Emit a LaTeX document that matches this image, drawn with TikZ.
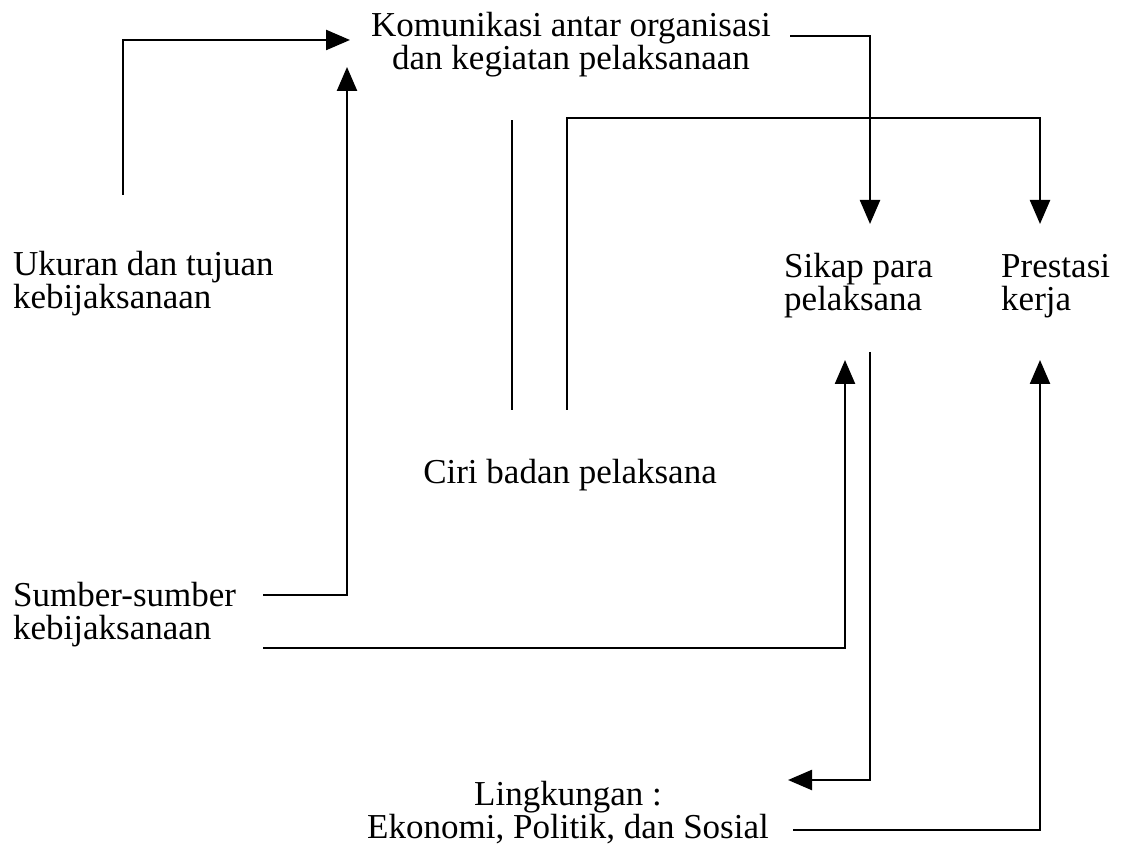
\documentclass[tikz,border=0pt]{standalone}
\usepackage{fontspec}
\setmainfont{Liberation Serif}
\usetikzlibrary{arrows.meta}
\begin{document}
\begin{tikzpicture}[x=0.5pt,y=-0.5pt,line width=1.2pt,
  tip/.style={-{Triangle[length=12pt,width=10pt]}},
  every node/.style={font=\fontsize{17.5}{16.5}\selectfont,inner sep=0pt,align=left}]
\useasboundingbox (0,0) rectangle (1127,854);

\node[anchor=north,align=center] (kom) at (571,11) {Komunikasi antar organisasi\\dan kegiatan pelaksanaan};
\node[anchor=north west] (uku) at (12,250) {Ukuran dan tujuan\\kebijaksanaan};
\node[anchor=north west] (sik) at (783,252) {Sikap para\\pelaksana};
\node[anchor=north west] (pre) at (1000,253) {Prestasi\\kerja};
\node[anchor=base] (cir) at (570,483) {Ciri badan pelaksana};
\node[anchor=north west] (sum) at (12,581) {Sumber-sumber\\kebijaksanaan};
\node[anchor=north,align=center] (lin) at (568,780) {Lingkungan :\\Ekonomi, Politik, dan Sosial};

\coordinate (u1) at (123,195);
\coordinate (u2) at (350,40);
\coordinate (s1) at (263,595);
\coordinate (s2) at (347,67);
\coordinate (s3) at (263,648);
\coordinate (k1) at (790,36);
\coordinate (k2) at (870,224);
\coordinate (c1) at (512,410);
\coordinate (c2) at (512,120);
\coordinate (c3) at (567,410);
\coordinate (c4) at (567,118);
\coordinate (p1) at (1040,224);
\coordinate (p2) at (845,360);
\coordinate (p3) at (870,352);
\coordinate (l1) at (788,780);
\coordinate (l2) at (793,830);
\coordinate (p4) at (1040,360);

\draw[tip] (u1) |- (u2);
\draw[tip] (s1) -| (s2);
\draw[tip] (k1) -| (k2);
\draw (c1) -- (c2);
\draw[tip] (c3) -- (c4) -| (p1);
\draw[tip] (s3) -| (p2);
\draw[tip] (p3) |- (l1);
\draw[tip] (l2) -| (p4);
\end{tikzpicture}
\end{document}
